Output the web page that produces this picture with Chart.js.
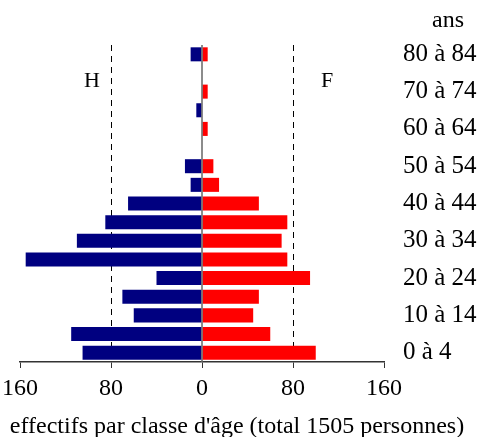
<!DOCTYPE html>
<html>
<head>
<meta charset="utf-8">
<script src="https://cdn.jsdelivr.net/npm/chart.js@4/dist/chart.umd.min.js"></script>
<style>
  html, body { margin: 0; padding: 0; background: #fff; }
  #wrap { width: 483px; height: 437px; }
</style>
</head>
<body>
<div id="wrap"><canvas id="pyramide"></canvas></div>
<script>
// classes d'âge, du bas vers le haut
const classes = ['0 à 4', '5 à 9', '10 à 14', '15 à 19', '20 à 24', '25 à 29', '30 à 34', '35 à 39',
  '40 à 44', '45 à 49', '50 à 54', '55 à 59', '60 à 64', '65 à 69', '70 à 74', '75 à 79', '80 à 84'];
const hommes = [105, 115, 60, 70, 40, 155, 110, 85, 65, 10, 15, 0, 0, 5, 0, 0, 10];
const femmes = [100, 60, 45, 50, 95, 75, 70, 75, 50, 15, 10, 0, 5, 0, 5, 0, 5];
const xTicks = [-160, -80, 0, 80, 160];

const serif = "'Liberation Serif', 'Times New Roman', serif";

// textes libres + ligne du zéro par dessus les barres
const extras = {
  id: 'extras',
  afterDatasetsDraw(chart) {
    const { ctx, chartArea, scales } = chart;
    const x0 = scales.x.getPixelForValue(0);
    ctx.save();
    ctx.strokeStyle = '#666';
    ctx.lineWidth = 1.5;
    ctx.beginPath();
    ctx.moveTo(x0, chartArea.top);
    ctx.lineTo(x0, chartArea.bottom);
    ctx.stroke();
    ctx.restore();
  },
  afterDraw(chart) {
    const { ctx } = chart;
    ctx.save();
    ctx.fillStyle = '#000';
    ctx.textBaseline = 'alphabetic';
    ctx.textAlign = 'center';
    ctx.font = '24px ' + serif;
    ctx.fillText('ans', 448, 27);
    ctx.font = '22px ' + serif;
    ctx.fillText('H', 92, 87);
    ctx.fillText('F', 327, 87);
    ctx.font = '24px ' + serif;
    ctx.fillText("effectifs par classe d'âge (total 1505 personnes)", 237, 433);
    ctx.restore();
  }
};

new Chart(document.getElementById('pyramide'), {
  type: 'bar',
  data: {
    labels: classes,
    datasets: [
      {
        label: 'H',
        data: hommes.map(v => -v),
        backgroundColor: '#000080',
        barPercentage: 0.94,
        categoryPercentage: 0.8
      },
      {
        label: 'F',
        data: femmes,
        backgroundColor: '#ff0000',
        barPercentage: 0.94,
        categoryPercentage: 0.8
      }
    ]
  },
  options: {
    indexAxis: 'y',
    responsive: true,
    maintainAspectRatio: false,
    animation: false,
    layout: { padding: { left: 20, top: 45, right: 0, bottom: 0 } },
    plugins: {
      legend: { display: false },
      tooltip: { enabled: false }
    },
    scales: {
      x: {
        stacked: true,
        min: -160,
        max: 160,
        afterBuildTicks: (scale) => { scale.ticks = xTicks.map(v => ({ value: v })); },
        afterFit: (scale) => {
          scale.height = 75;
          scale.paddingLeft = 0;
          scale.paddingRight = 0;
        },
        ticks: {
          callback: (v) => Math.abs(v),
          color: '#000',
          padding: 6,
          maxRotation: 0,
          font: { family: serif, size: 24 }
        },
        grid: {
          color: (c) => (c.tick && Math.abs(c.tick.value) === 80 ? '#000' : 'transparent'),
          lineWidth: 1,
          tickColor: '#333',
          tickLength: 6
        },
        border: {
          display: true,
          color: '#333',
          width: 1.5,
          dash: (c) => (c.tick && Math.abs(c.tick.value) === 80 ? [6, 5] : [])
        }
      },
      y: {
        stacked: true,
        reverse: true,
        position: 'right',
        afterFit: (scale) => { scale.width = 99; },
        grid: { display: false, drawTicks: false },
        border: { display: false },
        ticks: {
          autoSkip: false,
          padding: 19,
          color: '#000',
          font: { family: serif, size: 25 },
          callback: (v, i) => (i % 2 === 0 ? classes[i] : '')
        }
      }
    }
  },
  plugins: [extras]
});
</script>
</body>
</html>
